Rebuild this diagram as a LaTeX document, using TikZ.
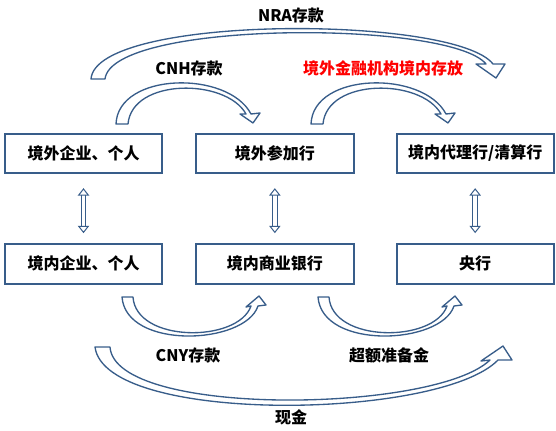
\documentclass[tikz,border=0pt]{standalone}
\usepackage{fontspec}
\setmainfont{Noto Sans CJK SC}
\usepackage{tikz}
\usetikzlibrary{positioning,arrows.meta}
\definecolor{frameblue}{RGB}{56,93,138}

\begin{document}
\begin{tikzpicture}[x=0.75pt, y=-0.75pt,
  box/.style={draw=frameblue, line width=1.5pt, minimum width=118pt, minimum height=29.5pt, font=\bfseries\fontsize{12pt}{14pt}\selectfont},
  lbl/.style={font=\bfseries\fontsize{12pt}{14pt}\selectfont},
  updown/.style={draw=frameblue, line width=0.75pt, double=white, double distance=2.6pt, {Triangle[open,length=5.5pt,width=8.5pt]}-{Triangle[open,length=5.5pt,width=8.5pt]}, shorten <=10.5pt, shorten >=7.5pt},
  bent/.style={draw=frameblue, fill=white, line width=1pt, line join=round}]
\useasboundingbox (0,0) rectangle (556,431);
\node[box] (1) at (83.5,153.5) {境外企业、个人};
\node[box, right=24pt of 1] (2) {境外参加行};
\node[box, right=30.75pt of 2] (3) {境内代理行/清算行};
\node[box, below=51.75pt of 1] (4) {境内企业、个人};
\node[box, below=51.75pt of 2] (5) {境内商业银行};
\node[box, below=51.75pt of 3] (6) {央行};
\foreach \a/\b in {1/4,2/5,3/6}
  \draw[updown] (\a) -- (\b);
\draw[bent] (91,79) .. controls (96,14) and (455,15) .. (493,64) -- (505,64) -- (496,78) -- (476,64) -- (486,64) .. controls (450,20) and (112,20) .. (105,79) -- cycle;
\foreach \s in {0,195}
  \draw[bent, shift={(\s,0)}] (116,124) .. controls (118,72) and (228,70) .. (251,114) -- (260,113) -- (253,123) -- (240,114) -- (246,114) .. controls (226,78) and (132,78) .. (128,124) -- cycle;
\foreach \s in {0,196}
  \draw[bent, shift={(\s,0)}] (122,297) .. controls (126,350) and (245,345) .. (258,306) -- (266,305) -- (259,296) -- (246,307) -- (251,306) .. controls (238,343) and (136,343) .. (133,297) -- cycle;
\draw[bent] (95,347) .. controls (105,425) and (440,420) .. (498,360) -- (512,360) -- (503,346) -- (481,361) -- (490,360) .. controls (435,413) and (115,418) .. (110,347) -- cycle;
\node[lbl] (nra) at (291,15) {NRA存款};
\node[lbl] (cnh) at (189,68) {CNH存款};
\node[lbl, text=red] (jwcf) at (383,68) {境外金融机构境内存放};
\node[lbl] (cny) at (188,355) {CNY存款};
\node[lbl] (cezb) at (389,355) {超额准备金};
\node[lbl] (xj) at (291,417) {现金};
\end{tikzpicture}
\end{document}
